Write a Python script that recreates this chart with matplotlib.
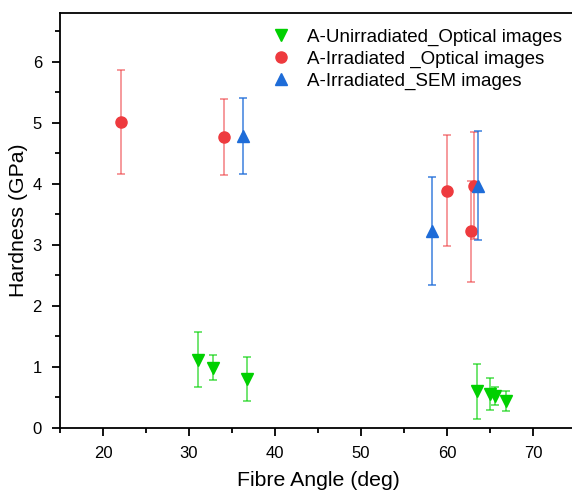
import numpy as np
import matplotlib
matplotlib.use("Agg")
import matplotlib.pyplot as plt
from matplotlib.ticker import MultipleLocator

plt.rcParams['font.family'] = ['Liberation Sans', 'DejaVu Sans']

# A-Unirradiated, optical images
unirr_x = [31.0, 32.8, 36.7, 63.5, 65.0, 65.6, 66.9]
unirr_y = [1.12, 0.99, 0.80, 0.60, 0.56, 0.52, 0.44]
unirr_err = [0.45, 0.21, 0.36, 0.45, 0.26, 0.15, 0.16]

# A-Irradiated, optical images
irr_opt_x = [22.1, 34.1, 60.0, 62.8, 63.1]
irr_opt_y = [5.02, 4.77, 3.89, 3.22, 3.97]
irr_opt_err = [0.85, 0.62, 0.91, 0.82, 0.88]

# A-Irradiated, SEM images
irr_sem_x = [36.3, 58.3, 63.6]
irr_sem_y = [4.78, 3.23, 3.97]
irr_sem_err = [0.62, 0.88, 0.89]

green = '#00D000'
red = '#EE3A3E'
blue = '#1E6CD8'

fig = plt.figure(figsize=(5.72, 4.94), dpi=100)
ax = fig.add_axes([60 / 572, 66 / 494, 516 / 572, 415 / 494])

def series(x, y, err, color, marker, label, ms, a):
    ax.errorbar(x, y, yerr=err, fmt='none', ecolor=color, alpha=a,
                elinewidth=1.2, capsize=3, capthick=1.2)
    ax.plot(x, y, linestyle='none', marker=marker, color=color,
            markersize=ms, label=label)

series(unirr_x, unirr_y, unirr_err, green, 'v', 'A-Unirradiated_Optical images', 9, 0.65)
series(irr_opt_x, irr_opt_y, irr_opt_err, red, 'o', 'A-Irradiated _Optical images', 8, 0.6)
series(irr_sem_x, irr_sem_y, irr_sem_err, blue, '^', 'A-Irradiated_SEM images', 9, 0.8)

ax.set_xlim(15, 75)
ax.set_ylim(0, 6.8)
ax.xaxis.set_major_locator(MultipleLocator(10))
ax.xaxis.set_minor_locator(MultipleLocator(5))
ax.yaxis.set_major_locator(MultipleLocator(1))
ax.yaxis.set_minor_locator(MultipleLocator(0.5))
ax.tick_params(which='both', direction='out', width=1.3, labelsize=12)
ax.tick_params(which='major', length=6, pad=7)
ax.tick_params(which='minor', length=3.5)
ax.tick_params(top=False, right=False)
for s in ax.spines.values():
    s.set_linewidth(1.3)

ax.set_xlabel('Fibre Angle (deg)', fontsize=15.3, labelpad=7)
ax.set_ylabel('Hardness (GPa)', fontsize=15.3, labelpad=3)

ax.legend(loc='upper left', bbox_to_anchor=(0.375, 1.0), frameon=False,
          fontsize=13.5, handletextpad=0.8, labelspacing=0.25, borderaxespad=0.45,
          handlelength=1.2)

fig.savefig('out.png', dpi=100)
